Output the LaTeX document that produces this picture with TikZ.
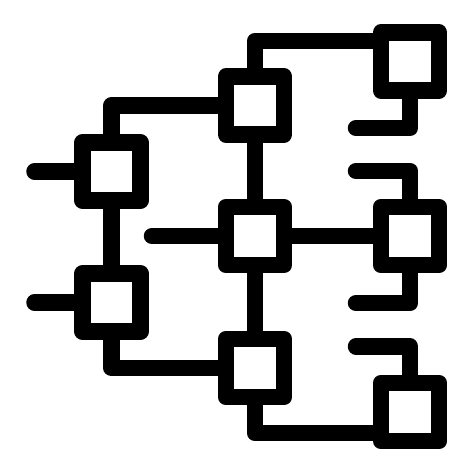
\documentclass[tikz,border=0pt]{standalone}
\usepackage{xcolor}
\usepackage{tikz}
\tikzstyle{Box}=[rectangle,draw=black,fill=white,inner sep=0pt,
minimum size=58pt,line width=16.5pt,line join=round]
\tikzstyle{Edge}=[draw=black,line width=16.5pt,line cap=round,line join=round]

\begin{document}
\begin{tikzpicture}[x=1pt,y=-1pt]
        \useasboundingbox(0,0)rectangle(474,474);
        \node[Box](L1)at(111.5,171.5){};
        \node[Box](L2)at(111.5,302.5){};
        \node[Box](M1)at(255.0,105.5){};
        \node[Box](M2)at(255.0,236.0){};
        \node[Box](M3)at(255.0,368.0){};
        \node[Box](R1)at(410.0,61.5){};
        \node[Box](R2)at(410.0,236.0){};
        \node[Box](R3)at(410.0,412.0){};
        \coordinate(sL1)at(34.5,171.5);
        \coordinate(sL2)at(34.5,302.5);
        \coordinate(sM2)at(152.0,236.0);
        \coordinate(eR1)at(356.0,128.0);
        \coordinate(sR2)at(356.0,171.0);
        \coordinate(eR2)at(356.0,303.0);
        \coordinate(sR3)at(356.0,346.5);
        \draw[Edge](sL1)--(L1.west);
        \draw[Edge](sL2)--(L2.west);
        \draw[Edge](L1.south)--(L2.north);
        \draw[Edge](L1.north)|-(M1.west);
        \draw[Edge](L2.south)|-(M3.west);
        \draw[Edge](M1.north)|-([yshift=20.5pt]R1.west);
        \draw[Edge](M1.south)--(M2.north);
        \draw[Edge](M2.south)--(M3.north);
        \draw[Edge](sM2)--(M2.west);
        \draw[Edge](M2.east)--(R2.west);
        \draw[Edge](M3.south)|-([yshift=-21pt]R3.west);
        \draw[Edge](R1.south)|-(eR1);
        \draw[Edge](sR2)-|(R2.north);
        \draw[Edge](R2.south)|-(eR2);
        \draw[Edge](sR3)-|(R3.north);
    \end{tikzpicture}
\end{document}
